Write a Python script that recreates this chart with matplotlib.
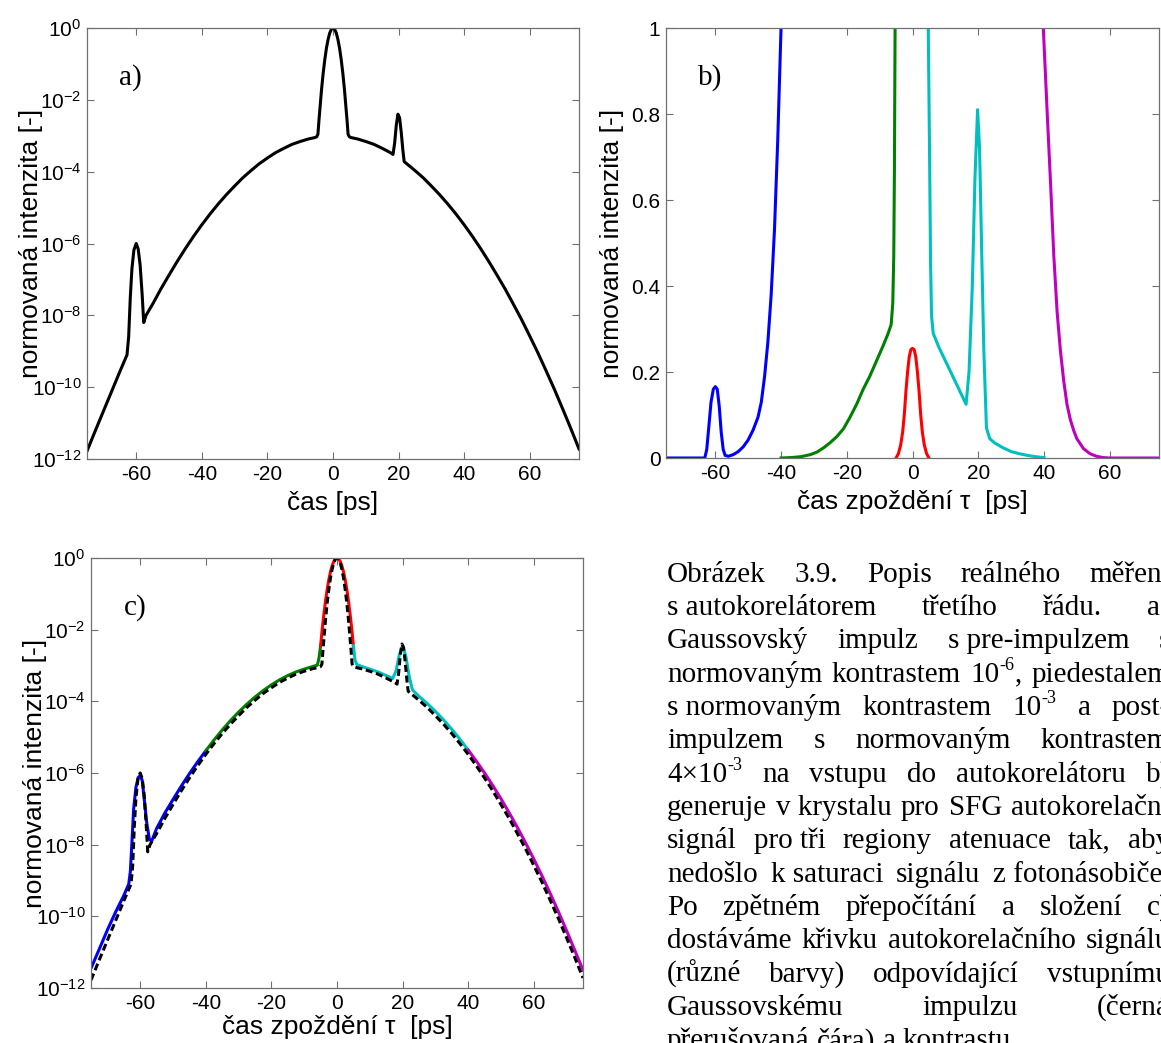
import numpy as np
import matplotlib
matplotlib.use("Agg")
import matplotlib.pyplot as plt

W_PX, H_PX = 1161, 1043
DPI = 100

plt.rcParams["font.family"] = ["Liberation Sans", "DejaVu Sans"]
plt.rcParams["mathtext.fontset"] = "custom"
plt.rcParams["mathtext.rm"] = "Liberation Sans"
plt.rcParams["mathtext.it"] = "Liberation Sans:italic"
plt.rcParams["mathtext.bf"] = "Liberation Sans:bold"

# ── input pulse: time [ps] and log10 of normalised intensity ─────────────────
pulse_t = [-75, -72.5, -70, -67.5, -65, -63.5, -62.8, -62.3, -61.8, -61.3,
           -60.7, -60.0, -59.4, -58.8, -58.2, -57.7, -57.0, -55, -52.5, -50,
           -47.5, -45, -42.5, -40, -37.5, -35, -32.5, -30, -27.5, -25,
           -22.5, -20, -17.5, -15, -12.5, -10, -7.5, -5.5, -5.0, -4.6,
           -4.3, -3.5, -3.0, -2.5, -2.0, -1.5, -1.0, -0.5, 0, 0.5,
           1.0, 1.5, 2.0, 2.5, 3.0, 3.5, 4.3, 4.6, 5.0, 5.5,
           7.5, 10, 12.5, 15, 17.5, 18.3, 18.8, 19.3, 19.8, 20.3,
           20.8, 21.3, 21.7, 22.5, 25, 27.5, 30, 32.5, 35, 37.5,
           40, 42.5, 45, 47.5, 50, 52.5, 55, 57.5, 60, 62.5,
           65, 67.5, 70, 72.5, 75]
pulse_log = [-11.78, -11.22, -10.67, -10.12, -9.57, -9.25, -9.10, -8.60, -7.50, -6.70,
             -6.18, -6.00, -6.15, -6.60, -7.40, -8.20, -8.00, -7.69, -7.27, -6.88,
             -6.50, -6.14, -5.80, -5.48, -5.18, -4.90, -4.64, -4.40, -4.17, -3.97,
             -3.78, -3.62, -3.47, -3.35, -3.24, -3.16, -3.09, -3.05, -3.03, -2.96,
             -2.59, -1.72, -1.26, -0.88, -0.56, -0.32, -0.14, -0.035, 0.0, -0.035,
             -0.14, -0.32, -0.56, -0.88, -1.26, -1.72, -2.59, -2.96, -3.03, -3.05,
             -3.09, -3.16, -3.24, -3.35, -3.47, -3.52, -3.20, -2.70, -2.40, -2.50,
             -2.90, -3.40, -3.72, -3.78, -3.97, -4.17, -4.40, -4.64, -4.90, -5.18,
             -5.48, -5.80, -6.14, -6.50, -6.88, -7.27, -7.69, -8.12, -8.58, -9.05,
             -9.55, -10.06, -10.60, -11.15, -11.72]

# ── raw autocorrelation signal in the attenuation regions (linear) ───────────
b_blue_t = [-75, -63.2, -62.6, -62.0, -61.3, -60.6, -60.0, -59.4, -58.8, -58.2,
            -57.6, -57.0, -56.0, -54.5, -53, -51.5, -50, -48.5, -47, -46,
            -45, -44, -43, -42, -41, -40]
b_blue_v = [0, 0, 0.02, 0.07, 0.13, 0.16, 0.166, 0.16, 0.12, 0.06,
            0.02, 0.006, 0.004, 0.008, 0.015, 0.026, 0.042, 0.065, 0.095, 0.13,
            0.19, 0.27, 0.38, 0.53, 0.74, 1.0]

b_green_t = [-40, -37, -34, -31, -29, -27, -25, -23, -21, -19,
             -17, -15, -13, -11, -9, -7.5, -6.5, -6.0, -5.7, -5.5, -5.3]
b_green_v = [0, 0.001, 0.003, 0.008, 0.014, 0.024, 0.036, 0.05, 0.068, 0.095,
             0.125, 0.16, 0.19, 0.225, 0.26, 0.288, 0.31, 0.36, 0.47, 0.67, 1.0]

b_red_t = [-5, -4.3, -3.6, -3.0, -2.5, -2.0, -1.5, -1.0, -0.5, 0,
           0.5, 1.0, 1.5, 2.0, 2.5, 3.0, 3.6, 4.3, 5]
b_red_v = [0, 0.01, 0.03, 0.06, 0.1, 0.155, 0.2, 0.235, 0.252, 0.255,
           0.252, 0.235, 0.2, 0.155, 0.1, 0.06, 0.03, 0.01, 0]

b_cyan_t = [4.8, 5.2, 5.5, 5.8, 6.3, 8, 10, 12, 14, 16.3,
            17.2, 18.2, 19.0, 19.8, 20.4, 21.0, 21.7, 22.5, 23.5, 25,
            27.5, 30, 32.5, 35, 37.5, 40]
b_cyan_v = [1.0, 0.7, 0.45, 0.33, 0.29, 0.258, 0.226, 0.194, 0.162, 0.125,
            0.2, 0.4, 0.65, 0.81, 0.72, 0.5, 0.25, 0.07, 0.045, 0.035,
            0.024, 0.015, 0.01, 0.006, 0.003, 0.001]

b_magenta_t = [39.8, 41, 42, 43, 44, 45, 46, 47, 48, 49,
               50, 52, 54, 56, 58, 60, 75]
b_magenta_v = [1.0, 0.8, 0.64, 0.47, 0.34, 0.25, 0.18, 0.125, 0.09, 0.065,
               0.045, 0.022, 0.01, 0.004, 0.001, 0.0, 0.0]

# ── recomposed autocorrelation (log10) ───────────────────────────────────────
c_blue_t = [-75, -72.5, -70, -67.5, -65, -63.5, -63.0, -62.5, -62.0, -61.3,
            -60.6, -60.0, -59.4, -58.8, -58.0, -57.2, -56.5, -55, -52.5, -50,
            -47.5, -45, -42.5, -40]
c_blue_log = [-11.45, -10.92, -10.38, -9.88, -9.42, -9.10, -8.75, -7.90, -7.00, -6.40,
              -6.12, -6.08, -6.20, -6.70, -7.40, -7.85, -7.90, -7.55, -7.12, -6.74,
              -6.37, -6.02, -5.69, -5.38]

c_green_t = [-40, -37.5, -35, -32.5, -30, -27.5, -25, -22.5, -20, -17.5,
             -15, -12.5, -10, -7.5, -6.0, -5.5, -5.0]
c_green_log = [-5.38, -5.08, -4.80, -4.54, -4.30, -4.08, -3.88, -3.70, -3.54, -3.40,
               -3.28, -3.18, -3.10, -3.03, -2.99, -2.80, -2.45]

c_red_t = [-5, -4.5, -4, -3.5, -3, -2.5, -2, -1.5, -1, -0.5,
           0, 0.5, 1, 1.5, 2, 2.5, 3, 3.5, 4, 4.5, 5]
c_red_log = [-2.45, -1.98, -1.57, -1.20, -0.88, -0.61, -0.39, -0.22, -0.10, -0.02,
             0.0, -0.02, -0.10, -0.22, -0.39, -0.61, -0.88, -1.20, -1.57, -1.98, -2.45]

c_cyan_t = [5, 5.5, 6, 8, 10, 12.5, 15, 17, 18, 19,
            20, 21, 22, 23, 25, 27.5, 30, 32.5, 35, 37.5, 40]
c_cyan_log = [-2.45, -2.85, -2.97, -3.04, -3.10, -3.18, -3.28, -3.36, -3.15, -2.70,
              -2.45, -2.75, -3.30, -3.68, -3.86, -4.06, -4.28, -4.52, -4.78, -5.06, -5.36]

c_magenta_t = [40, 42.5, 45, 47.5, 50, 52.5, 55, 57.5, 60, 62.5,
               65, 67.5, 70, 72.5, 75]
c_magenta_log = [-5.36, -5.67, -6.00, -6.35, -6.72, -7.11, -7.52, -7.95, -8.40, -8.87,
                 -9.36, -9.87, -10.40, -10.95, -11.50]

# ── ticks ────────────────────────────────────────────────────────────────────
x_ticks = [-60, -40, -20, 0, 20, 40, 60]
log_ticks = [1e-12, 1e-10, 1e-8, 1e-6, 1e-4, 1e-2, 1e0]
log_labels = [r"$\mathregular{10^{-12}}$", r"$\mathregular{10^{-10}}$",
              r"$\mathregular{10^{-8}}$", r"$\mathregular{10^{-6}}$",
              r"$\mathregular{10^{-4}}$", r"$\mathregular{10^{-2}}$",
              r"$\mathregular{10^{0}}$"]
lin_ticks = [0, 0.2, 0.4, 0.6, 0.8, 1]
lin_labels = ["0", "0.2", "0.4", "0.6", "0.8", "1"]

CAPTION = [
    "Obrázek 3.9. Popis reálného měření",
    "s\u00a0autokorelátorem třetího řádu. a)",
    "Gaussovský impulz s\u00a0pre-impulzem s",
    "normovaným kontrastem 10^{-6}, piedestalem",
    "s\u00a0normovaným kontrastem 10^{-3} a post-",
    "impulzem s normovaným kontrastem",
    "4×10^{-3} na vstupu do autokorelátoru b)",
    "generuje v\u00a0krystalu pro SFG autokorelační",
    "signál pro\u00a0tři regiony atenuace tak, aby",
    "nedošlo k\u00a0saturaci signálu z\u00a0fotonásobiče.",
    "Po zpětném přepočítání a složení c)",
    "dostáváme křivku autokorelačního signálu",
    "(různé barvy) odpovídající vstupnímu",
    "Gaussovskému impulzu (černá",
    "přerušovaná čára) a kontrastu.",
]

# ── style ────────────────────────────────────────────────────────────────────
BLUE = (0, 0, 1)
GREEN = (0, 0.5, 0)
RED = (1, 0, 0)
CYAN = (0, 0.75, 0.75)
MAGENTA = (0.75, 0, 0.75)
SPINE = "#707070"
LW = 2.2
TICK_FS = 15
LABEL_FS = 19
PANEL_FS = 21
CAPTION_FS = 21
SERIF = "Liberation Serif"


def px_axes(fig, left, top, right, bottom):
    return fig.add_axes([left / W_PX, 1 - bottom / H_PX,
                         (right - left) / W_PX, (bottom - top) / H_PX])


def style_axes(ax, xlabel, ylabel_x, xlabel_y):
    ax.set_xlim(-75, 75)
    ax.set_xticks(x_ticks)
    ax.set_xticklabels([str(v) for v in x_ticks])
    ax.tick_params(which="both", direction="in", top=True, right=True,
                   length=5, width=0.8, color=SPINE, labelsize=TICK_FS,
                   labelcolor="black", pad=4)
    for s in ax.spines.values():
        s.set_color(SPINE)
        s.set_linewidth(0.9)
    ax.set_xlabel(xlabel, fontsize=LABEL_FS)
    ax.xaxis.set_label_coords(0.5, xlabel_y)
    ax.set_ylabel("normovaná intenzita [-]", fontsize=LABEL_FS)
    ax.yaxis.set_label_coords(ylabel_x, 0.5)


def log_axes(ax):
    ax.set_yscale("log")
    ax.set_ylim(1e-12, 1)
    ax.set_yticks(log_ticks)
    ax.set_yticklabels(log_labels)
    ax.yaxis.set_minor_locator(plt.NullLocator())


def panel_tag(ax, tag):
    ax.text(0.089, 0.885, tag, transform=ax.transAxes, family=SERIF,
            fontsize=PANEL_FS, ha="center", va="center")


def split_sup(word):
    # "10^{-6}," -> [("10", False), ("-6", True), (",", False)]
    segs = []
    while "^{" in word:
        i = word.index("^{")
        j = word.index("}", i)
        if i:
            segs.append((word[:i], False))
        segs.append((word[i + 2:j], True))
        word = word[j + 1:]
    if word:
        segs.append((word, False))
    return segs


def draw_caption(fig, lines, left, right, base0, step, size):
    # justified block: word gaps stretched so every line but the last
    # runs from left to right
    renderer = fig.canvas.get_renderer()
    em = size * DPI / 72
    for k, line in enumerate(lines):
        y = 1 - (base0 + k * step) / H_PX
        words = line.split(" ")
        placed, widths = [], []
        for w in words:
            arts, width = [], 0.0
            for txt, sup in split_sup(w):
                t = fig.text(0, y, txt, family=SERIF, va="baseline",
                             fontsize=size * (0.62 if sup else 1.0))
                arts.append((t, width, sup))
                width += t.get_window_extent(renderer).width
            placed.append(arts)
            widths.append(width)
        if k < len(lines) - 1 and len(words) > 1:
            gap = (right - left - sum(widths)) / (len(words) - 1)
        else:
            gap = 0.25 * em
        x = left
        for arts, w in zip(placed, widths):
            for t, off, sup in arts:
                t.set_x((x + off) / W_PX)
                if sup:
                    t.set_y(y + 0.4 * em / H_PX)
            x += w + gap


fig = plt.figure(figsize=(W_PX / DPI, H_PX / DPI), dpi=DPI)
fig.patch.set_facecolor("white")

# a) input pulse
ax_a = px_axes(fig, 87, 28, 579, 459)
ax_a.plot(pulse_t, 10.0 ** np.array(pulse_log), color="black", lw=LW)
log_axes(ax_a)
style_axes(ax_a, "čas [ps]", -0.089, -0.074)
panel_tag(ax_a, "a)")

# b) measured signal per attenuation region
ax_b = px_axes(fig, 666, 28, 1159, 458)
for t, v, c in [(b_blue_t, b_blue_v, BLUE), (b_green_t, b_green_v, GREEN),
                (b_red_t, b_red_v, RED), (b_cyan_t, b_cyan_v, CYAN),
                (b_magenta_t, b_magenta_v, MAGENTA)]:
    ax_b.plot(t, v, color=c, lw=LW)
ax_b.set_ylim(0, 1)
ax_b.set_yticks(lin_ticks)
ax_b.set_yticklabels(lin_labels)
style_axes(ax_b, "čas zpoždění τ  [ps]", -0.085, -0.074)
panel_tag(ax_b, "b)")

# c) recomposed autocorrelation vs. input pulse (dashed)
ax_c = px_axes(fig, 91, 558, 583, 988)
for t, lg, c in [(c_blue_t, c_blue_log, BLUE), (c_green_t, c_green_log, GREEN),
                 (c_red_t, c_red_log, RED), (c_cyan_t, c_cyan_log, CYAN),
                 (c_magenta_t, c_magenta_log, MAGENTA)]:
    ax_c.plot(t, 10.0 ** np.array(lg), color=c, lw=LW)
ax_c.plot(pulse_t, 10.0 ** np.array(pulse_log), color="black", lw=LW,
          ls=(0, (2.3, 1.2)))
log_axes(ax_c)
style_axes(ax_c, "čas zpoždění τ  [ps]", -0.089, -0.063)
panel_tag(ax_c, "c)")

draw_caption(fig, CAPTION, 667, 1170, 581.7, 33.33, CAPTION_FS)

fig.savefig("out.png", dpi=DPI, facecolor="white")
